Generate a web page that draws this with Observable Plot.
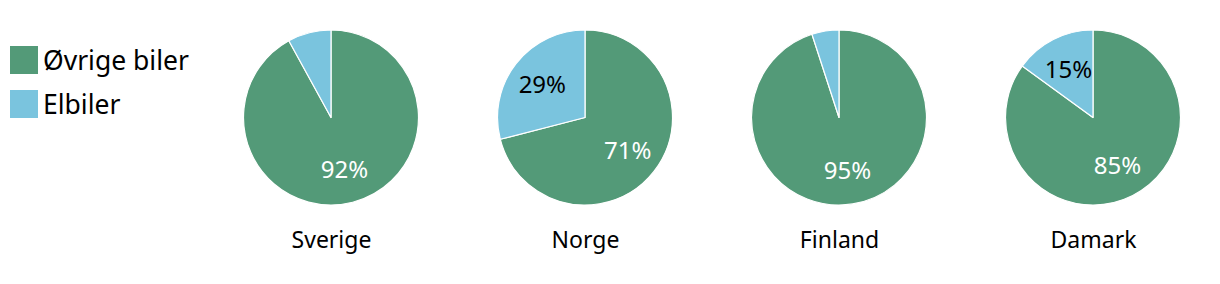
<!DOCTYPE html>
<html>
<head>
<meta charset="utf-8">
<script src="https://cdn.jsdelivr.net/npm/d3@7"></script>
<script src="https://cdn.jsdelivr.net/npm/@observablehq/plot@0.6"></script>
<style>
  html, body { margin: 0; padding: 0; background: #fff; }
  #wrap { position: relative; width: 1220px; height: 284px; font-family: "Noto Sans", sans-serif; }
  #legend { position: absolute; left: 10px; top: 46px; }
  #legend > div { margin: 0 !important; font-size: 26.5px !important; font-family: "Noto Sans", sans-serif !important; color: #000 !important; overflow: visible !important; }
  #legend div[class$="-swatch"] { font-size: 26.5px !important; height: 28px; margin: 0 0 16px 0 !important; padding: 0 !important; display: flex; align-items: center; overflow: visible !important; }
  #legend div[class$="-swatch"] > div { overflow: visible !important; line-height: 36px !important; white-space: nowrap; }
  #legend div[class$="-swatch"] svg { margin-right: 5px !important; flex-shrink: 0; }
  #chart { position: absolute; left: 0; top: 0; }
</style>
</head>
<body>
<div id="wrap"><div id="chart"></div><div id="legend"></div></div>
<script>
const countries = ["Sverige", "Norge", "Finland", "Damark"];
const otherCars = [92, 71, 95, 85];   // Øvrige biler, %
const electricCars = [8, 29, 5, 15]; // Elbiler, %
const seriesNames = ["Øvrige biler", "Elbiler"];
const seriesColors = ["#539a78", "#7ac4de"];
const labelColors = ["#ffffff", "#000000"];

const rows = countries.map((c, i) => ({country: c, values: [otherCars[i], electricCars[i]]}));

const cy = 117.5, R = 87.5, labelR = 54;

function pies(index, scales, values, dimensions, context) {
  const x = scales.x;
  const bw = x.bandwidth ? x.bandwidth() : 0;
  const g = d3.create("svg:g");
  const pie = d3.pie().sort(null).startAngle(0).endAngle(2 * Math.PI);
  const arc = d3.arc().innerRadius(0).outerRadius(R);
  const labelArc = d3.arc().innerRadius(labelR).outerRadius(labelR);
  for (const row of rows) {
    const cx = x(row.country) + bw / 2;
    const arcs = pie(row.values);
    const pg = g.append("g").attr("transform", `translate(${cx},${cy})`);
    pg.selectAll("path").data(arcs).join("path")
      .attr("d", arc)
      .attr("fill", (d, i) => seriesColors[i])
      .attr("stroke", "#fff")
      .attr("stroke-width", 1.2)
      .attr("stroke-linejoin", "round");
    pg.selectAll("text").data(arcs.filter(d => d.data >= 10)).join("text")
      .attr("transform", d => `translate(${labelArc.centroid(d)})`)
      .attr("text-anchor", "middle")
      .attr("dy", "0.35em")
      .attr("font-size", 24)
      .attr("fill", d => labelColors[d.index])
      .text(d => `${d.data}%`);
  }
  return g.node();
}

const chart = Plot.plot({
  width: 1220,
  height: 284,
  marginLeft: 203,
  marginRight: 0,
  marginTop: 0,
  marginBottom: 0,
  style: {fontFamily: "Noto Sans, sans-serif", background: "transparent"},
  x: {type: "band", domain: countries, padding: 0, axis: null},
  marks: [
    pies,
    Plot.text(countries, {x: d => d, frameAnchor: "bottom", dy: -37, fontSize: 23, fill: "#000"})
  ]
});
document.getElementById("chart").append(chart);

const legend = Plot.legend({
  color: {domain: seriesNames, range: seriesColors},
  legend: "swatches",
  columns: 1,
  swatchSize: 28,
  style: {fontFamily: "Noto Sans, sans-serif", fontSize: "26.5px"}
});
document.getElementById("legend").append(legend);
</script>
</body>
</html>
